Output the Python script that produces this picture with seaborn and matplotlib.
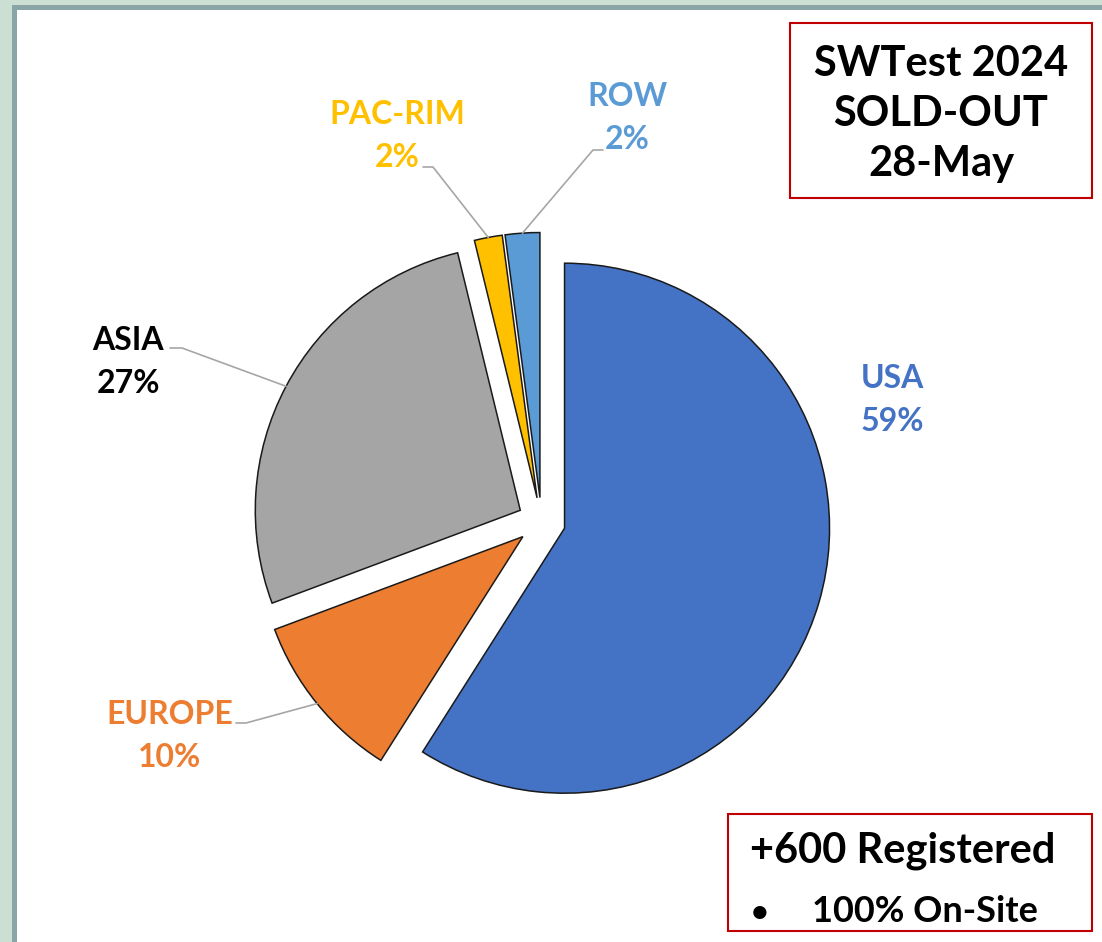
import matplotlib
matplotlib.use('Agg')
import matplotlib.pyplot as plt
from matplotlib.patches import Rectangle
import numpy as np
import seaborn as sns

# registrations by region (share of total, %)
regions = ['USA', 'EUROPE', 'ASIA', 'PAC-RIM', 'ROW']
shares = [59.0, 10.3, 26.9, 1.7, 2.1]
slice_colors = ['#4472C4', '#ED7D31', '#A5A5A5', '#FFC000', '#5B9BD5']
label_colors = ['#4472C4', '#ED7D31', '#000000', '#FFC000', '#5B9BD5']

title_lines = ['SWTest 2024', 'SOLD-OUT', '28-May']
registered_text = '+600 Registered'
onsite_text = '100% On-Site'

W, H = 1102, 942
CENTER = (541.5, 521.5)
RADIUS = 265
EXPLODE = 24

# label anchor (pixels) and leader stub for each region
label_pos = {'USA': (892, 400), 'EUROPE': (170, 736), 'ASIA': (128, 362),
             'PAC-RIM': (397, 136), 'ROW': (627, 118)}
leader_stub = {'EUROPE': [(236, 723), (246, 723)],
               'ASIA': [(170, 348), (182, 348)],
               'PAC-RIM': [(423, 167), (433, 167)],
               'ROW': [(603, 150), (593, 150)]}

sns.set_theme(style='white')
plt.rcParams['font.family'] = ['Lato', 'DejaVu Sans']

fig = plt.figure(figsize=(W / 100, H / 100), dpi=100, facecolor='#cbe0d2')
ax = fig.add_axes([0, 0, 1, 1])

# white slide panel with grey-teal frame
ax.add_patch(Rectangle((14.3, 6.8), W, H, facecolor='white', edgecolor='#8aa5a8',
                       linewidth=3.6, zorder=0))

# y axis points down, so counterclock in data = clockwise on screen
wedges, _ = ax.pie(shares, colors=slice_colors, startangle=-90, counterclock=True,
                   explode=[EXPLODE] * len(shares), center=CENTER, radius=RADIUS,
                   wedgeprops=dict(edgecolor='#1a1a1a', linewidth=1.1))

for w, name, val, col in zip(wedges, regions, shares, label_colors):
    x, y = label_pos[name]
    ax.text(x, y, f'{name}\n{val:.0f}%', color=col, fontsize=23, fontweight='bold',
            ha='center', va='center', multialignment='center', linespacing=1.6, zorder=4)
    if name in leader_stub:
        mid = np.deg2rad((w.theta1 + w.theta2) / 2)
        cx, cy = w.center
        arc = (cx + w.r * np.cos(mid), cy + w.r * np.sin(mid))
        pts = leader_stub[name] + [arc]
        ax.plot([p[0] for p in pts], [p[1] for p in pts], color='#a6a6a6', lw=1.2, zorder=1)

# header box
ax.add_patch(Rectangle((790, 23), 302, 175, facecolor='white', edgecolor='#c00000',
                       linewidth=1.5, zorder=3))
ax.text(941, 114, '\n'.join(title_lines), fontsize=30, fontweight='bold', color='black',
        ha='center', va='center', multialignment='center', linespacing=1.4, zorder=4)

# footer box
ax.add_patch(Rectangle((728, 814), 364, 117, facecolor='white', edgecolor='#c00000',
                       linewidth=1.5, zorder=3))
ax.text(750, 863, registered_text, fontsize=30, fontweight='bold', color='black',
        ha='left', va='baseline', zorder=4)
ax.text(751, 922, '\u2022', fontsize=22, fontweight='bold', color='black',
        ha='left', va='baseline', zorder=4)
ax.text(812, 922, onsite_text, fontsize=26, fontweight='bold', color='black',
        ha='left', va='baseline', zorder=4)

ax.set_xlim(0, W)
ax.set_ylim(H, 0)
ax.set_aspect('equal')
ax.axis('off')

fig.savefig('out.png', dpi=100, facecolor=fig.get_facecolor())
